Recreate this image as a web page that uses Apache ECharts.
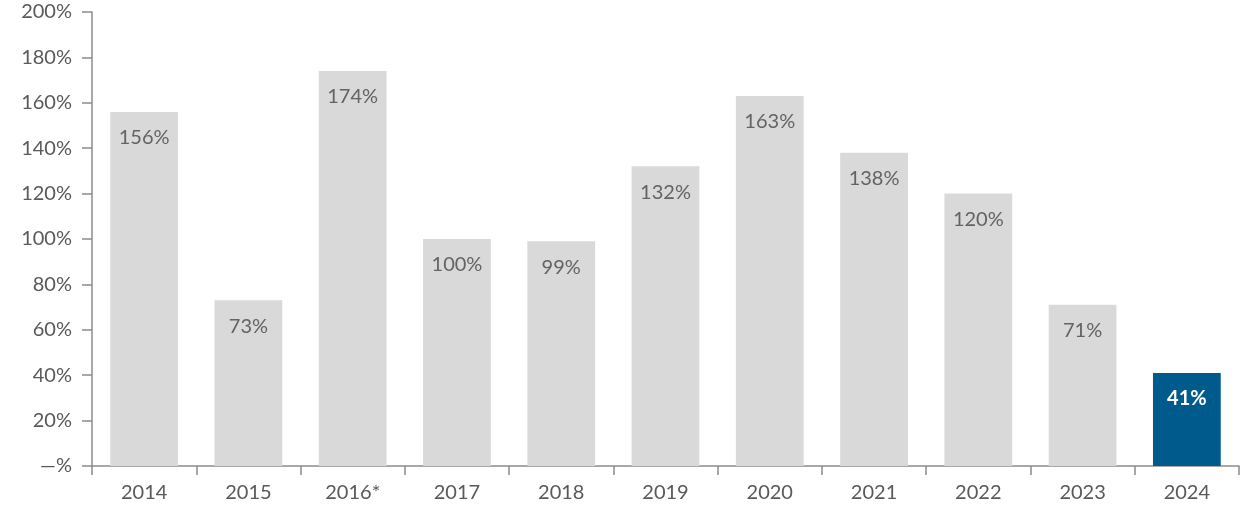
<!DOCTYPE html>
<html><head><meta charset="utf-8">
<script src="https://cdn.jsdelivr.net/npm/echarts@6/dist/echarts.min.js"></script>
<style>html,body{margin:0;padding:0;background:#fff}#c{width:1248px;height:518px}</style>
</head><body><div id="c"></div>
<script>
const categories = ['2014','2015','2016*','2017','2018','2019','2020','2021','2022','2023','2024'];
const values = [156, 73, 174, 100, 99, 132, 163, 138, 120, 71, 41];
const highlightIndex = 10;
const yTicks = [0,20,40,60,80,100,120,140,160,180,200];

const FONT = 'Lato, "Noto Sans", sans-serif';
const chart = echarts.init(document.getElementById('c'));
chart.setOption({
  animation: false,
  grid: {left: 92, right: 9, top: 12, bottom: 52, containLabel: false},
  xAxis: {
    type: 'category', data: categories,
    axisLine: {lineStyle: {color: '#8c8c8c', width: 1.5}},
    axisTick: {show: true, length: 9, lineStyle: {color: '#8c8c8c', width: 1.5}},
    axisLabel: {color: '#595959', fontSize: 20, fontFamily: FONT, margin: 17}
  },
  yAxis: {
    type: 'value', min: yTicks[0], max: yTicks[yTicks.length-1], interval: 20,
    axisLine: {show: true, lineStyle: {color: '#8c8c8c', width: 1.5}},
    axisTick: {show: true, length: 10, lineStyle: {color: '#8c8c8c', width: 1.5}},
    splitLine: {show: false},
    axisLabel: {color: '#595959', fontSize: 20, fontFamily: FONT, margin: 20,
      formatter: v => v === 0 ? '\u2014%' : v + '%'}
  },
  series: [{
    type: 'bar', barWidth: '65%',
    data: values.map((v, i) => i === highlightIndex ? {
      value: v, itemStyle: {color: '#005b8c'},
      label: {color: '#ffffff', fontWeight: 'bold'}
    } : v),
    itemStyle: {color: '#d9d9d9'},
    label: {show: true, position: 'insideTop', distance: 16, color: '#636363',
      fontSize: 20, fontFamily: FONT, formatter: p => p.value + '%'}
  }]
});
</script></body></html>
